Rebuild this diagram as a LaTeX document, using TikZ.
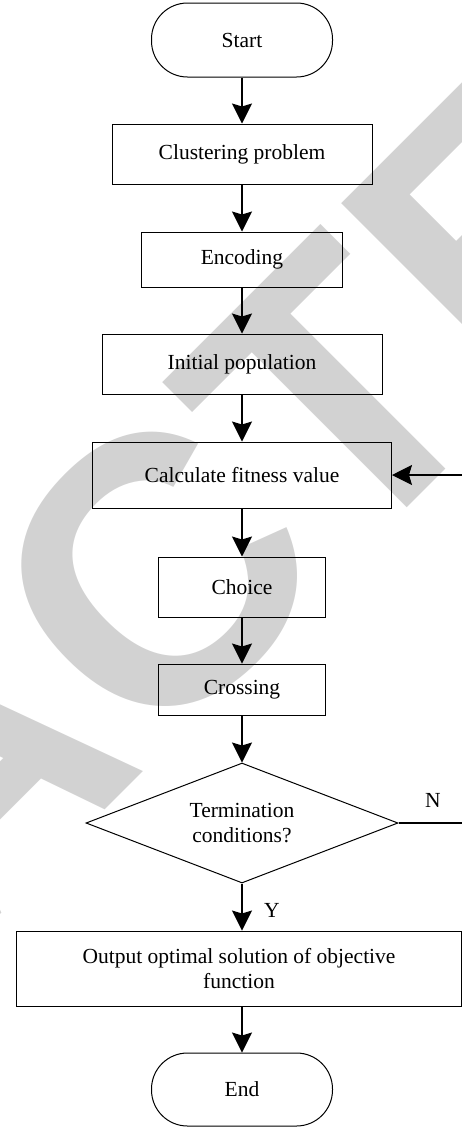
\documentclass[tikz,border=0pt]{standalone}
\usepackage{fontspec}
\setmainfont{Liberation Serif}
\newfontfamily\wmfont{Liberation Sans}
\usetikzlibrary{shapes.geometric,arrows.meta}
\tikzset{
  box/.style={draw, line width=1pt, rectangle, inner sep=1pt, align=center, font=\fontsize{21.5}{25}\selectfont},
  term/.style={box, rounded corners=36pt},
  dec/.style={box, diamond, aspect=2.6},
  arr/.style={line width=1.1pt, -{Stealth[length=20pt,width=20pt,inset=3pt]}},
  plain/.style={line width=1.1pt},
  lab/.style={inner sep=0pt, font=\fontsize{21.5}{25}\selectfont},
  wm/.style={rotate=45, inner sep=0pt, text=gray!35, font=\wmfont\bfseries\fontsize{380}{380}\selectfont}
}
\begin{document}
\begin{tikzpicture}[x=1pt,y=-1pt]
\useasboundingbox (0,0) rectangle (462,1128);
\begin{scope}
\clip (0,0) rectangle (462,1128);
\node[wm] (mark) at (-39,769) {RETRACTED};
\end{scope}
\node[term, minimum width=181, minimum height=74] (start) at (242,40) {Start};
\node[box, minimum width=260, minimum height=60] (clust) at (242,154) {Clustering problem};
\node[box, minimum width=201, minimum height=55] (enc) at (242,259.5) {Encoding};
\node[box, minimum width=280, minimum height=60] (init) at (242,364) {Initial population};
\node[box, minimum width=299, minimum height=66] (calc) at (242,475) {Calculate fitness value};
\node[box, minimum width=167, minimum height=60] (choice) at (242,587) {Choice};
\node[box, minimum width=167, minimum height=51] (cross) at (242,689.5) {Crossing};
\node[dec, minimum width=312, minimum height=120] (dia) at (242,823) {Termination\\conditions?};
\node[box, minimum width=445, minimum height=75] (out) at (239,968.5) {Output optimal solution of objective\\function};
\node[term, minimum width=181, minimum height=73] (end) at (242,1089.5) {End};
\node[lab] (nlab) at (433,800) {N};
\node[lab] (ylab) at (272,910) {Y};
\coordinate (loopR) at (463,823);
\coordinate (loopT) at (463,475);
\draw[arr] (start) -- (clust);
\draw[arr] (clust) -- (enc);
\draw[arr] (enc) -- (init);
\draw[arr] (init) -- (calc);
\draw[arr] (calc) -- (choice);
\draw[arr] (choice) -- (cross);
\draw[arr] (cross) -- (dia);
\draw[arr] (dia.south) -- (dia.south |- out.north);
\draw[arr] (out.south -| end.north) -- (end.north);
\draw[arr] (dia.east) -- (loopR) -- (loopT) -- (calc.east);
\end{tikzpicture}
\end{document}
